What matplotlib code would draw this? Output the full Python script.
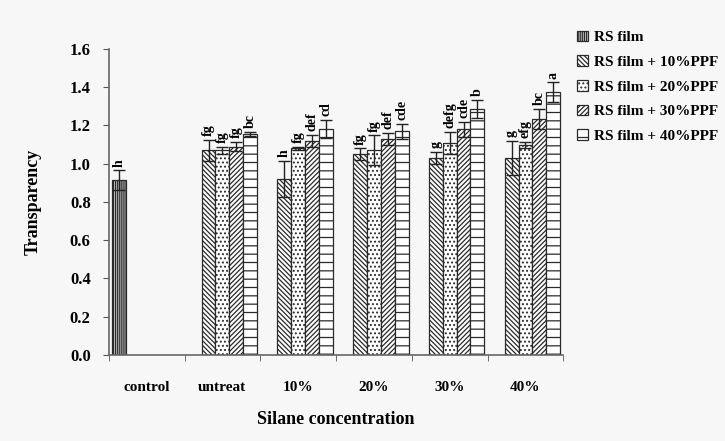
import matplotlib.pyplot as plt
import numpy as np

plt.rcParams['font.family'] = ['Liberation Serif', 'DejaVu Serif']
plt.rcParams['font.weight'] = 'bold'
plt.rcParams['hatch.color'] = '#2a2a2a'
plt.rcParams['hatch.linewidth'] = 0.9

categories = ['control', 'untreat', '10%', '20%', '30%', '40%']
series_names = ['RS film', 'RS film + 10%PPF', 'RS film + 20%PPF',
                'RS film + 30%PPF', 'RS film + 40%PPF']

# one list per series, None where there is no bar
rs_film = [0.915, None, None, None, None, None]
ppf10 = [None, 1.07, 0.92, 1.05, 1.03, 1.03]
ppf20 = [None, 1.07, 1.08, 1.07, 1.11, 1.10]
ppf30 = [None, 1.09, 1.12, 1.13, 1.18, 1.235]
ppf40 = [None, 1.155, 1.18, 1.17, 1.285, 1.375]

err_rs = [0.05, None, None, None, None, None]
err10 = [None, 0.055, 0.095, 0.03, 0.03, 0.088]
err20 = [None, 0.02, 0.01, 0.078, 0.057, 0.016]
err30 = [None, 0.025, 0.03, 0.03, 0.04, 0.052]
err40 = [None, 0.012, 0.048, 0.04, 0.048, 0.05]

lab_rs = ['h', '', '', '', '', '']
lab10 = ['', 'fg', 'h', 'fg', 'g', 'g']
lab20 = ['', 'fg', 'fg', 'fg', 'defg', 'efg']
lab30 = ['', 'fg', 'def', 'def', 'cde', 'bc']
lab40 = ['', 'bc', 'cd', 'cde', 'b', 'a']

values = [rs_film, ppf10, ppf20, ppf30, ppf40]
errors = [err_rs, err10, err20, err30, err40]
letters = [lab_rs, lab10, lab20, lab30, lab40]
hatches = ['|' * 8, '\\' * 7, '.' * 4, '/' * 7, '--']
faces = ['#d0d0d0', 'white', 'white', 'white', 'white']

fig = plt.figure(figsize=(7.25, 4.41), dpi=100)
fig.patch.set_facecolor('#f7f7f7')
ax = fig.add_axes([0.150, 0.195, 0.627, 0.694])
ax.set_facecolor('#f7f7f7')

x = np.arange(len(categories))
w = 0.183
for i in range(5):
    idx = [k for k in range(len(categories)) if values[i][k] is not None]
    xs = x[idx] + (i - 2) * w
    v = np.array([values[i][k] for k in idx])
    e = np.array([errors[i][k] for k in idx])
    ax.bar(xs, v, w, color=faces[i], edgecolor='#2a2a2a', linewidth=0.9,
           hatch=hatches[i], label=series_names[i])
    ax.errorbar(xs, v, yerr=e, fmt='none', ecolor='#222222',
                elinewidth=1, capsize=4, capthick=1)
    for xx, vv, ee, k in zip(xs, v, e, idx):
        ax.text(xx, vv + ee + 0.02, letters[i][k], rotation=90,
                ha='center', va='bottom', fontsize=10, fontweight='bold')

ax.set_xlim(-0.5, 5.5)
ax.set_ylim(0, 1.6)
ax.set_yticks(np.arange(0, 1.61, 0.2))
ax.set_yticklabels(['%.1f' % t for t in np.arange(0, 1.61, 0.2)],
                   fontsize=12, fontweight='bold')
ax.set_xticks(x)
ax.set_xticklabels(categories, fontsize=11, fontweight='bold')
ax.set_xticks(np.arange(-0.5, 5.6, 1), minor=True)
ax.tick_params(axis='x', which='major', length=0, pad=19)
ax.tick_params(axis='x', which='minor', length=4, color='#555555')
ax.tick_params(axis='y', length=4, color='#555555', pad=9)

for s in ['top', 'right']:
    ax.spines[s].set_visible(False)
for s in ['left', 'bottom']:
    ax.spines[s].set_color('#666666')
    ax.spines[s].set_linewidth(1.2)

ax.set_ylabel('Transparency', fontsize=13, fontweight='bold', labelpad=20)
ax.set_xlabel('Silane concentration', fontsize=13, fontweight='bold', labelpad=12)

leg = ax.legend(loc='upper left', bbox_to_anchor=(1.01, 1.09), frameon=False,
                prop={'size': 11, 'weight': 'bold'}, handlelength=0.7,
                handleheight=0.7, labelspacing=0.72, handletextpad=0.4,
                borderaxespad=0.2)

fig.savefig('out.png', dpi=100, facecolor=fig.get_facecolor())
